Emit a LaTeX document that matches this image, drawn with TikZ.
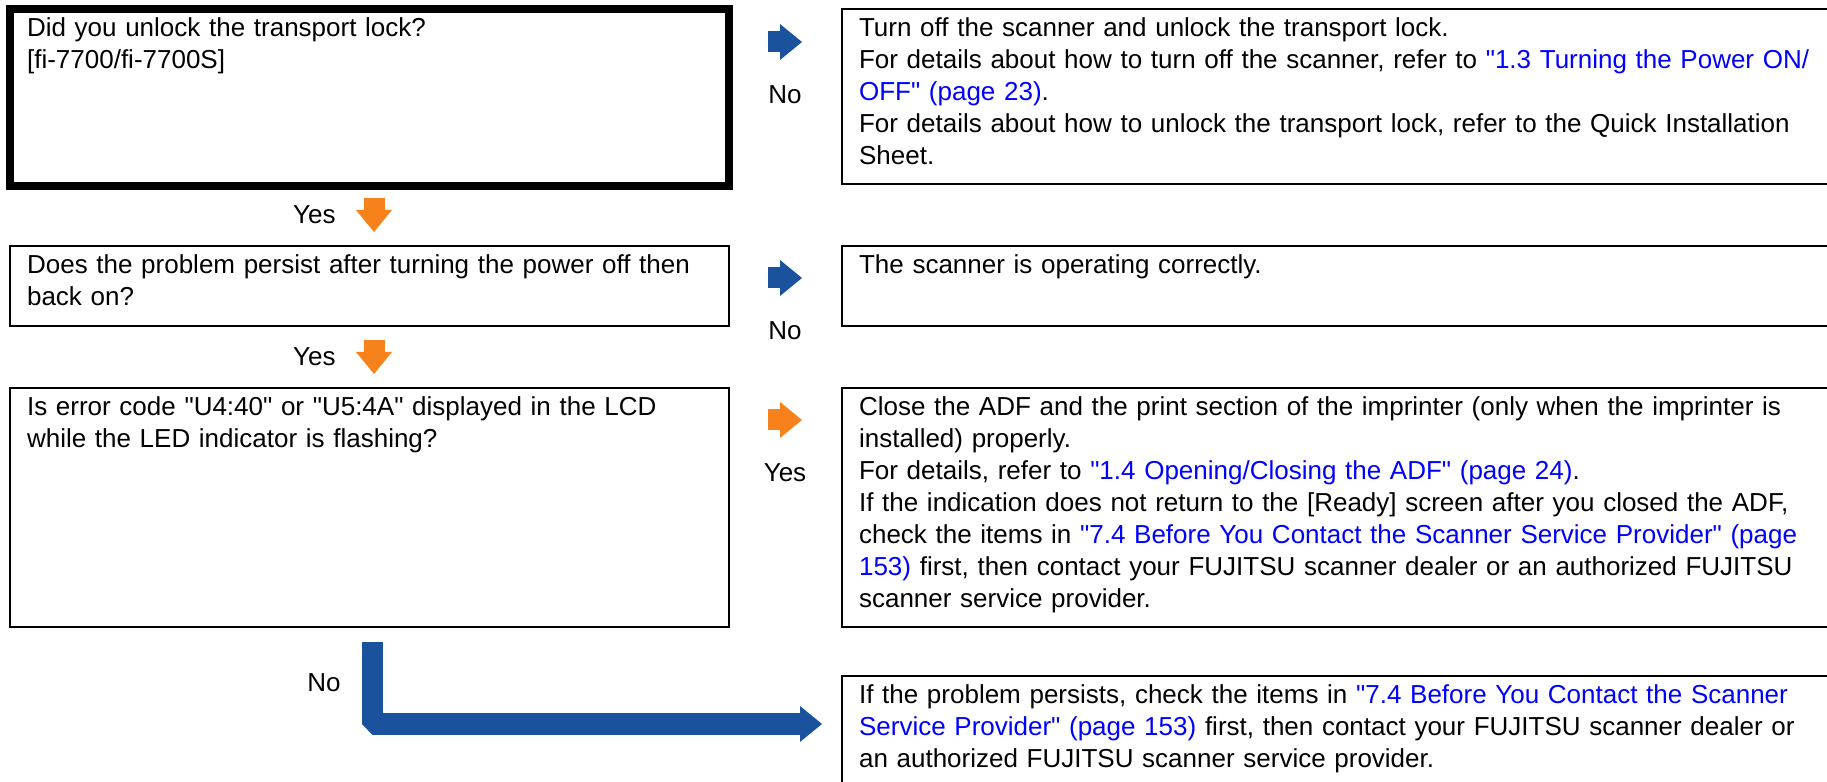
\documentclass[tikz,border=0pt]{standalone}
\usepackage{fontspec}
\setmainfont{Liberation Sans}[Ligatures=TeXOff]
\usepackage{xcolor}
\usepackage{tikz}
\usetikzlibrary{arrows.meta, positioning}

\definecolor{linkblue}{RGB}{0,0,255}
\definecolor{noblue}{RGB}{27,82,158}
\definecolor{yesorange}{RGB}{247,130,27}
\newcommand{\xref}[1]{\textcolor{linkblue}{#1}}

\begin{document}
\begin{tikzpicture}[x=0.375pt, y=-0.375pt,
  question/.style={rectangle, draw, line width=0.7pt, outer sep=0pt, anchor=north west, align=left, text width=256.8pt, inner xsep=6.4pt, inner ysep=3pt, text height=7.5pt, font=\fontsize{9.75}{12}\selectfont},
  answer/.style={question, text width=369pt},
  noarrow/.style={-{Triangle[length=8.25pt, width=13.5pt, line width=0pt]}, line width=7.875pt, draw=noblue},
  yesarrow/.style={noarrow, draw=yesorange},
  tag/.style={inner sep=0pt, font=\fontsize{9.75}{12}\selectfont}
]
 \useasboundingbox (0,0) rectangle (1827,782);
 \clip (0,0) rectangle (1827,782);

 % Questions
 \node[question, line width=3pt, text depth=52.9pt] (unlock) at (10,9) {Did you unlock the transport lock?\\{}[fi-7700/fi-7700S]};
 \node[question, text depth=16.5pt] (persist) at (10,246) {Does the problem persist after turning the power off then\\ back on?};
 \node[question, text depth=76.1pt] (lcd) at (10,388) {Is error code "U4:40" or "U5:4A" displayed in the LCD\\ while the LED indicator is flashing?};

 % Answers
 \node[answer, text depth=52.1pt] (unlockfix) at (842,9) {Turn off the scanner and unlock the transport lock.\\
   For details about how to turn off the scanner, refer to \xref{"1.3 Turning the Power ON/}\\
   \xref{OFF" (page 23)}.\\
   For details about how to unlock the transport lock, refer to the Quick Installation\\
   Sheet.};
 \node[answer, text depth=16.5pt] (okay) at (842,246) {The scanner is operating correctly.};
 \node[answer, text depth=76.1pt] (closeadf) at (842,388) {Close the ADF and the print section of the imprinter (only when the imprinter is\\
   installed) properly.\\
   For details, refer to \xref{"1.4 Opening/Closing the ADF" (page 24)}.\\
   If the indication does not return to the [Ready] screen after you closed the ADF,\\
   check the items in \xref{"7.4 Before You Contact the Scanner Service Provider" (page}\\
   \xref{153)} first, then contact your FUJITSU scanner dealer or an authorized FUJITSU\\
   scanner service provider.};
 \node[answer, text depth=40pt] (contact) at (842,676) {If the problem persists, check the items in \xref{"7.4 Before You Contact the Scanner}\\
   \xref{Service Provider" (page 153)} first, then contact your FUJITSU scanner dealer or\\
   an authorized FUJITSU scanner service provider.};

 % Side arrows
 \coordinate (unlockA) at (768,42);
 \coordinate (unlockB) at (802,42);
 \coordinate (persistA) at (768,278);
 \coordinate (persistB) at (802,278);
 \coordinate (lcdA) at (768,420);
 \coordinate (lcdB) at (802,420);
 \draw[noarrow] (unlockA) -- (unlockB) node[tag, midway, below=12.6pt] {No};
 \draw[noarrow] (persistA) -- (persistB) node[tag, midway, below=12.6pt] {No};
 \draw[yesarrow] (lcdA) -- (lcdB) node[tag, midway, below=12.6pt] {Yes};

 % Down arrows
 \coordinate (yesA) at (374,198);
 \coordinate (yesB) at (374,232);
 \coordinate (yesC) at (374,340);
 \coordinate (yesD) at (374,374);
 \draw[yesarrow] (yesA) -- (yesB) node[tag, midway, left=10.5pt] {Yes};
 \draw[yesarrow] (yesC) -- (yesD) node[tag, midway, left=10.5pt] {Yes};

 % Last branch
 \coordinate (lcdNo) at (372.5,642);
 \coordinate (contactIn) at (822,724);
 \draw[noarrow, line width=8pt, line join=bevel] (lcdNo) |- (contactIn) node[tag, pos=0.25, left=8pt] {No};
\end{tikzpicture}
\end{document}
